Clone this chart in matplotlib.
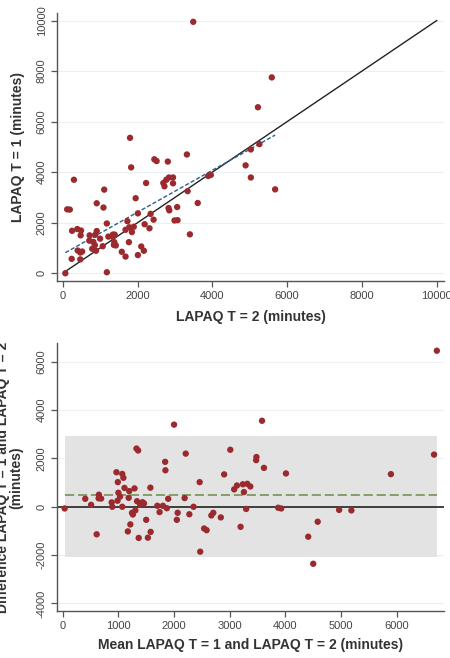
import matplotlib
matplotlib.use("Agg")
import matplotlib.pyplot as plt
import numpy as np

plt.rcParams['font.family'] = ['Liberation Sans', 'DejaVu Sans']
plt.rcParams['axes.unicode_minus'] = False

# LAPAQ activity (minutes)
t2 = [70, 240, 470, 400, 470, 520, 1180, 790, 890, 250,
      480, 860, 710, 820, 390, 490, 720, 1070, 1000, 870,
      1580, 1680, 1370, 1420, 910, 1380, 120, 190, 1220, 2010,
      1340, 1340, 1390, 1770, 2170, 1180, 2100, 1680, 1850, 1780,
      910, 1090, 1900, 1730, 300, 2320, 2190, 2010, 1110, 2430,
      2350, 1950, 3400, 2990, 3070, 2850, 2830, 3060, 2230, 1830,
      2720, 2690, 3610, 2770, 2950, 3340, 2840, 2950, 2510, 2450,
      1800, 2810, 3890, 3960, 3320, 5030, 5680, 4890, 5030, 5260,
      5220, 5590, 3490]
t1 = [0, 570, 550, 900, 820, 860, 40, 970, 890, 1680,
      1500, 1110, 1290, 1240, 1750, 1690, 1500, 1070, 1370, 1520,
      850, 660, 1120, 1100, 1670, 1230, 2530, 2520, 1450, 720,
      1440, 1530, 1530, 1230, 890, 1970, 1060, 1720, 1630, 1820,
      2770, 2600, 1840, 2060, 3700, 1780, 1940, 2370, 3310, 2120,
      2350, 2970, 1540, 2090, 2100, 2490, 2580, 2620, 3570, 4190,
      3440, 3570, 2780, 3700, 3560, 3250, 3790, 3790, 4440, 4510,
      5360, 4420, 3850, 3890, 4700, 3790, 3320, 4270, 4900, 5110,
      6570, 7750, 9950]

# fitted line and Bland-Altman limits as shown
fit_intercept = 755
fit_slope = 0.83
bias = 470
loa_low = -2070
loa_high = 2920

x_ticks_top = [0, 2000, 4000, 6000, 8000, 10000]
y_ticks_top = [0, 2000, 4000, 6000, 8000, 10000]
x_ticks_ba = [0, 1000, 2000, 3000, 4000, 5000, 6000]
y_ticks_ba = [-4000, -2000, 0, 2000, 4000, 6000]

dot_color = '#9b2a2e'
spine_color = '#555555'
grid_color = '#eaeff3'

t1 = np.array(t1, dtype=float)
t2 = np.array(t2, dtype=float)
mean_vals = (t1 + t2) / 2
diff_vals = t1 - t2


def style_axes(ax):
    for side in ['top', 'right']:
        ax.spines[side].set_visible(False)
    for side in ['left', 'bottom']:
        ax.spines[side].set_color(spine_color)
        ax.spines[side].set_linewidth(1.0)
    ax.tick_params(axis='both', direction='out', length=4, width=0.9,
                   color=spine_color, labelcolor='#444444', labelsize=8)
    ax.grid(axis='y', color=grid_color, linewidth=0.8)
    ax.set_axisbelow(True)
    for lbl in ax.get_yticklabels():
        lbl.set_rotation(90)
        lbl.set_va('center')


fig = plt.figure(figsize=(4.5, 6.58), dpi=100)

# --- scatter T=2 vs T=1 ---
ax1 = fig.add_axes([0.1267, 0.573, 0.86, 0.407])
xs = np.array([t2.min(), t2.max()])
ax1.plot([t2.min(), 10000], [t2.min(), 10000], color='#222222', lw=1.0, zorder=2)
ax1.plot(xs, fit_intercept + fit_slope * xs, color='#2d5f8f', lw=1.0,
         dashes=(3, 1.5), zorder=2)
ax1.scatter(t2, t1, s=21, color=dot_color, edgecolors='none', zorder=3)
ax1.set_xlim(-152, 10195)
ax1.set_ylim(-305, 10293)
ax1.set_xticks(x_ticks_top)
ax1.set_yticks(y_ticks_top)
style_axes(ax1)
ax1.set_xlabel('LAPAQ T = 2 (minutes)', fontsize=10, fontweight='bold',
               color='#333333', labelpad=6)
ax1.set_ylabel('LAPAQ T = 1 (minutes)', fontsize=10, fontweight='bold',
               color='#333333')
ax1.yaxis.set_label_coords(-0.082, 0.5)

# --- Bland-Altman ---
ax2 = fig.add_axes([0.1267, 0.0714, 0.86, 0.4066])
mx0, mx1 = mean_vals.min(), mean_vals.max()
ax2.fill_between([mx0, mx1], loa_low, loa_high, color='#e3e3e3', lw=0, zorder=1)
ax2.plot([mx0, mx1], [bias, bias], color='#6a8c4a', lw=1.1, dashes=(6, 2.5),
         zorder=2)
ax2.axhline(0, color='#111111', lw=1.1, zorder=2)
ax2.scatter(mean_vals, diff_vals, s=21, color=dot_color, edgecolors='none',
            zorder=3)
ax2.set_xlim(-102, 6849)
ax2.set_ylim(-4316, 6760)
ax2.set_xticks(x_ticks_ba)
ax2.set_yticks(y_ticks_ba)
style_axes(ax2)
ax2.set_xlabel('Mean LAPAQ T = 1 and LAPAQ T = 2 (minutes)', fontsize=10,
               fontweight='bold', color='#333333', labelpad=5)
ax2.set_ylabel('Difference LAPAQ T = 1 and LAPAQ T = 2\n(minutes)', fontsize=10,
               fontweight='bold', color='#333333', linespacing=0.95)
ax2.yaxis.set_label_coords(-0.087, 0.5)

fig.savefig('out.png', dpi=100)
